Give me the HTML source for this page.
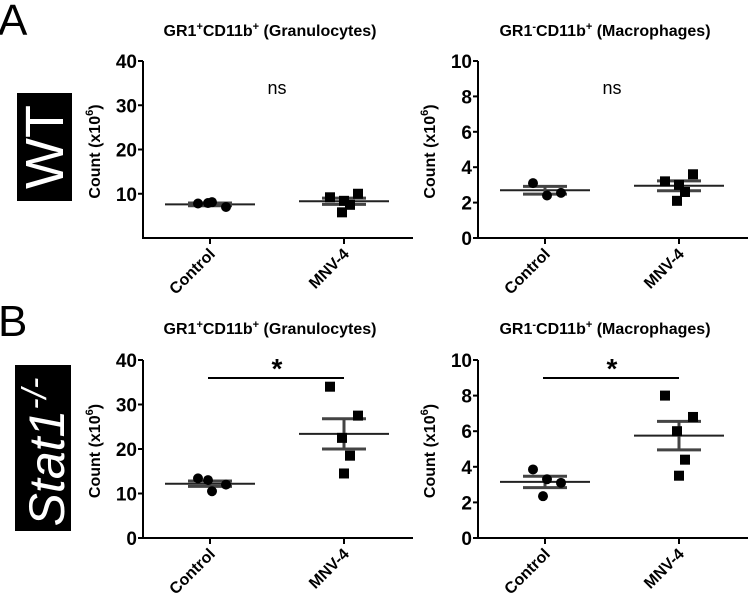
<!DOCTYPE html>
<html><head><meta charset="utf-8"><style>
html,body{margin:0;padding:0;background:#fff;}
svg{display:block;font-family:"Liberation Sans",sans-serif;font-weight:bold;}
</style></head><body>
<svg id="fig" width="750" height="601" viewBox="0 0 750 601">
<text x="-2" y="35" font-size="44" font-weight="normal">A</text>
<text x="-2" y="336" font-size="44" font-weight="normal">B</text>
<rect x="17" y="93" width="55" height="108" fill="#000"/>
<text transform="translate(63,147) rotate(-90)" text-anchor="middle" font-size="54" font-weight="normal" fill="#fff">WT</text>
<rect x="15" y="365" width="56" height="166" fill="#000"/>
<text transform="translate(64,452) rotate(-90)" text-anchor="middle" font-size="50" font-weight="normal" font-style="italic" fill="#fff">Stat1<tspan dy="-18" font-size="34">-/-</tspan></text>
</svg>
<script>
const categories = ["Control", "MNV-4"];
const aGranControl = [7.8, 8.1, 7.0, 7.9];
const aGranMnv = [9.2, 10.0, 5.8, 7.5, 8.4];
const aGranMean = [7.6, 8.3];
const aGranSem = [0.3, 0.7];
const aMacControl = [3.1, 2.4, 2.55];
const aMacMnv = [3.2, 3.6, 2.1, 2.6, 3.0];
const aMacMean = [2.7, 2.95];
const aMacSem = [0.22, 0.28];
const bGranControl = [13.4, 10.5, 12.0, 13.0];
const bGranMnv = [34, 27.5, 22.5, 18.5, 14.5];
const bGranMean = [12.2, 23.4];
const bGranSem = [0.6, 3.4];
const bMacControl = [3.85, 3.3, 3.1, 2.35];
const bMacMnv = [8.0, 6.8, 6.0, 4.4, 3.5];
const bMacMean = [3.15, 5.75];
const bMacSem = [0.32, 0.8];
const granTicks = [0, 10, 20, 30, 40];
const macTicks = [0, 2, 4, 6, 8, 10];

const svg = document.getElementById('fig');
const NS = 'http://www.w3.org/2000/svg';
function mk(tag, attrs, parent) {
  const e = document.createElementNS(NS, tag);
  for (const k in attrs) e.setAttribute(k, attrs[k]);
  (parent || svg).appendChild(e);
  return e;
}
const jitterC = [-12, 2, 16, -2, 8];
const jitterM = [-14, 14, -2, 6, 0];

function panel(o) {
  const g = mk('g', {});
  
  
  const y = v => o.y0 - (v / o.max) * (o.y0 - o.yTop);
  const xc = [o.ax + 67, o.ax + 201];
  const t = mk('text', {x: o.ax + 127, y: o.titleY, 'text-anchor': 'middle', 'font-size': 16}, g);
  
  
  t.innerHTML = o.title;
  const ya = mk('line', {x1: o.ax, x2: o.ax, y1: y(o.max), y2: o.y0, stroke: '#000', 'stroke-width': 2}, g);
  
  
  o.ticks.forEach(tv => {
    if (o.hideZero && tv === 0) return;
    mk('line', {x1: o.ax - 5, x2: o.ax, y1: y(tv), y2: y(tv), stroke: '#000', 'stroke-width': 2}, g);
    const tl = mk('text', {x: o.ax - 6, y: y(tv) + 7, 'text-anchor': 'end', 'font-size': 19}, g);
    
    
    tl.textContent = tv;
  });
  const yl = mk('text', {transform: `translate(${o.ax - 43},${(y(o.max) + o.y0) / 2 + 2}) rotate(-90)`, 'text-anchor': 'middle', 'font-size': 16}, g);
  
  
  yl.innerHTML = 'Count (x10<tspan dy="-7" font-size="11">6</tspan><tspan dy="7">)</tspan>';
  const xa = mk('line', {x1: o.ax - 1, x2: o.ax + 270, y1: o.y0, y2: o.y0, stroke: '#000', 'stroke-width': 2}, g);
  
  
  categories.forEach((c, i) => {
    mk('line', {x1: xc[i], x2: xc[i], y1: o.y0, y2: o.y0 + 6, stroke: '#000', 'stroke-width': 2}, g);
    const xl = mk('text', {transform: `translate(${xc[i] + 6},${o.y0 + 17}) rotate(-45)`, 'text-anchor': 'end', 'font-size': 16}, g);
    
    
    xl.textContent = c;
  });
  [o.ctrl, o.mnv].forEach((vals, i) => {
    const jit = i === 0 ? jitterC : jitterM;
    const m = o.mean[i], s = o.sem[i];
    const ml = mk('line', {x1: xc[i] - 45, x2: xc[i] + 45, y1: y(m), y2: y(m), stroke: '#222', 'stroke-width': 2}, g);
    
    
    const eb = mk('path', {d: `M${xc[i]} ${y(m + s)}V${y(m - s)}M${xc[i] - 22} ${y(m + s)}H${xc[i] + 22}M${xc[i] - 22} ${y(m - s)}H${xc[i] + 22}`, stroke: '#444', 'stroke-width': 3, fill: 'none'}, g);
    
    
    vals.forEach((v, j) => {
      let p;
      if (i === 0) p = mk('circle', {cx: xc[i] + jit[j], cy: y(v), r: 5, fill: '#000'}, g);
      else p = mk('rect', {x: xc[i] + jit[j] - 5, y: y(v) - 5, width: 10, height: 10, fill: '#000'}, g);
      
      
    });
  });
  if (o.sig === 'ns') {
    const ns = mk('text', {x: (xc[0] + xc[1]) / 2, y: y(o.max) + 33, 'text-anchor': 'middle', 'font-size': 18, 'font-weight': 'normal'}, g);
    
    
    ns.textContent = 'ns';
  } else {
    const sl = mk('line', {x1: xc[0] - 2, x2: xc[1], y1: o.y0 - 160, y2: o.y0 - 160, stroke: '#000', 'stroke-width': 2}, g);
    
    
    const st = mk('text', {x: (xc[0] + xc[1]) / 2, y: o.y0 - 160, 'text-anchor': 'middle', 'font-size': 28}, g);
    
    
    st.textContent = '*';
  }
}
const granTitle = 'GR1<tspan dy="-6" font-size="11">+</tspan><tspan dy="6">CD11b</tspan><tspan dy="-6" font-size="11">+</tspan><tspan dy="6"> (Granulocytes)</tspan>';
const macTitle = 'GR1<tspan dy="-6" font-size="11">-</tspan><tspan dy="6">CD11b</tspan><tspan dy="-6" font-size="11">+</tspan><tspan dy="6"> (Macrophages)</tspan>';
panel({name: 'panel-a-granulocytes', ax: 143, y0: 238, yTop: 61, max: 40, ticks: granTicks, hideZero: true, title: granTitle, titleY: 36, ctrl: aGranControl, mnv: aGranMnv, mean: aGranMean, sem: aGranSem, sig: 'ns'});
panel({name: 'panel-a-macrophages', ax: 478, y0: 238, yTop: 61, max: 10, ticks: macTicks, title: macTitle, titleY: 36, ctrl: aMacControl, mnv: aMacMnv, mean: aMacMean, sem: aMacSem, sig: 'ns'});
panel({name: 'panel-b-granulocytes', ax: 143, y0: 538, yTop: 360, max: 40, ticks: granTicks, title: granTitle, titleY: 334, ctrl: bGranControl, mnv: bGranMnv, mean: bGranMean, sem: bGranSem, sig: '*'});
panel({name: 'panel-b-macrophages', ax: 478, y0: 538, yTop: 360, max: 10, ticks: macTicks, title: macTitle, titleY: 334, ctrl: bMacControl, mnv: bMacMnv, mean: bMacMean, sem: bMacSem, sig: '*'});
</script>
</body></html>
